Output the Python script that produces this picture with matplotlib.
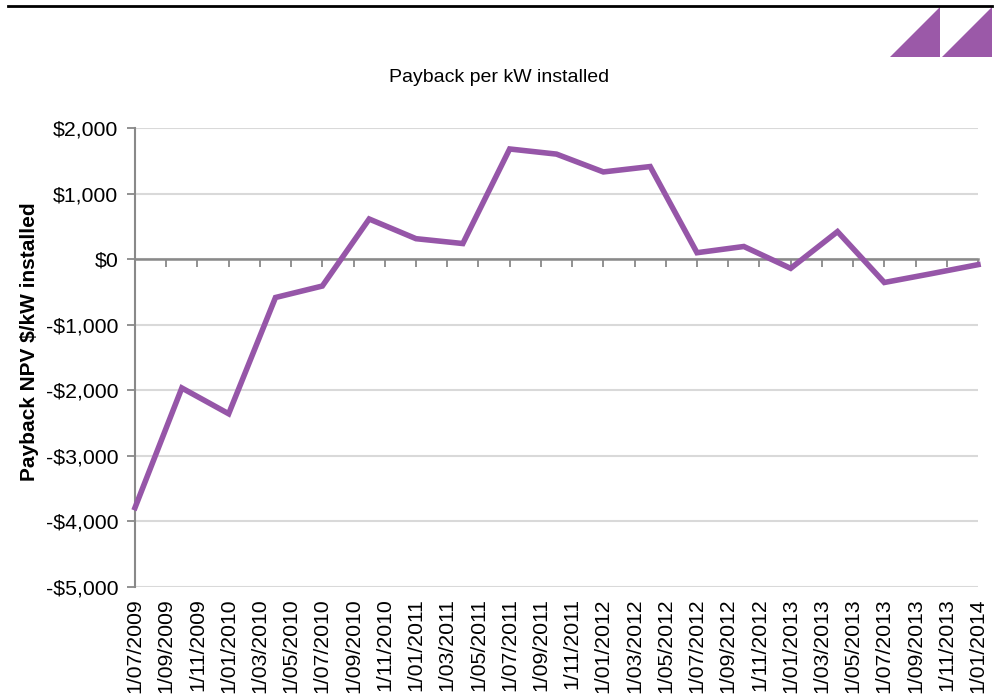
import matplotlib
matplotlib.use("Agg")
import matplotlib.pyplot as plt
from matplotlib.patches import Polygon
from matplotlib.lines import Line2D
from matplotlib.ticker import FuncFormatter, FixedLocator

plt.rcParams['font.family'] = ['Liberation Sans', 'DejaVu Sans']

# Quarterly payback NPV values ($ per kW installed)
periods = ["2009-07", "2009-10", "2010-01", "2010-04", "2010-07", "2010-10",
           "2011-01", "2011-04", "2011-07", "2011-10", "2012-01", "2012-04",
           "2012-07", "2012-10", "2013-01", "2013-04", "2013-07", "2013-10",
           "2014-01"]
npv = [-3790, -1965, -2358, -585, -410, 612,
       312, 238, 1680, 1602, 1330, 1412,
       98, 193, -140, 420, -356, -222,
       -84]

start_year, start_month = 2009, 7
end_period = "2014-01"
y_ticks = [-5000, -4000, -3000, -2000, -1000, 0, 1000, 2000]


def month_index(p):
    y, m = (int(v) for v in p.split("-"))
    return (y - start_year) * 12 + (m - start_month)


x_vals = [month_index(p) for p in periods]
x_end = month_index(end_period)
tick_pos = list(range(0, x_end + 1, 2))
tick_labels = []
for t in tick_pos:
    m = start_month - 1 + t
    tick_labels.append("1/%02d/%d" % (m % 12 + 1, start_year + m // 12))

W, H = 1003, 698
fig = plt.figure(figsize=(W / 100, H / 100), dpi=100)
ax = fig.add_axes([135 / W, 1 - 587 / H, (978 - 135) / W, (587 - 128) / H])

line_color = "#9656A8"
axis_gray = "#898989"
grid_gray = "#D9D9D9"

ax.set_xlim(0, x_end)
ax.set_ylim(-5000, 2000)

# light horizontal gridlines
ax.set_yticks(y_ticks)
ax.grid(axis="y", color=grid_gray, linewidth=1.5)
ax.set_axisbelow(True)

# money formatting on the value axis
def money(v, _):
    v = int(round(v))
    return ("-$" if v < 0 else "$") + format(abs(v), ",")

ax.yaxis.set_major_formatter(FuncFormatter(money))
ax.tick_params(axis="y", direction="out", length=6, width=1.3, color=axis_gray,
               labelsize=15.3, pad=6)

for side in ("top", "right"):
    ax.spines[side].set_visible(False)
ax.spines["left"].set_color(axis_gray)
ax.spines["left"].set_linewidth(1.5)

# category axis crosses at zero with its tick marks
ax.spines["bottom"].set_position(("data", 0))
ax.spines["bottom"].set_color(axis_gray)
ax.spines["bottom"].set_linewidth(1.8)
ax.xaxis.set_major_locator(FixedLocator(tick_pos))
ax.tick_params(axis="x", direction="out", length=6, width=1.3, color=axis_gray,
               labelbottom=False)

# date labels along the bottom edge
sec = ax.secondary_xaxis(0)
sec.set_xticks(tick_pos)
sec.set_xticklabels(tick_labels, rotation=90, va="top", ha="center")
sec.tick_params(axis="x", length=0, labelsize=15.3, pad=8)
sec.spines["bottom"].set_visible(False)

ax.plot(x_vals, npv, color=line_color, linewidth=4, solid_joinstyle="miter",
        zorder=3, clip_on=False)

ax.set_ylabel("Payback NPV $/kW installed", fontsize=15, fontweight="bold")
ax.yaxis.set_label_coords(-0.114, 0.534)

fig.text(499 / W, 1 - 78 / H, "Payback per kW installed", fontsize=14,
         ha="center", va="center")

# header rule and corner mark
fig.add_artist(Line2D([8 / W, 992 / W], [1 - 6 / H, 1 - 6 / H],
                      color="black", linewidth=2, transform=fig.transFigure))
for x0, x1 in ((890, 940), (942, 992)):
    fig.add_artist(Polygon([(x0 / W, 1 - 57 / H), (x1 / W, 1 - 57 / H),
                            (x1 / W, 1 - 7 / H)], closed=True,
                           facecolor="#9B59A8", edgecolor="none",
                           transform=fig.transFigure))

fig.savefig("out.png", dpi=100, facecolor="white")
